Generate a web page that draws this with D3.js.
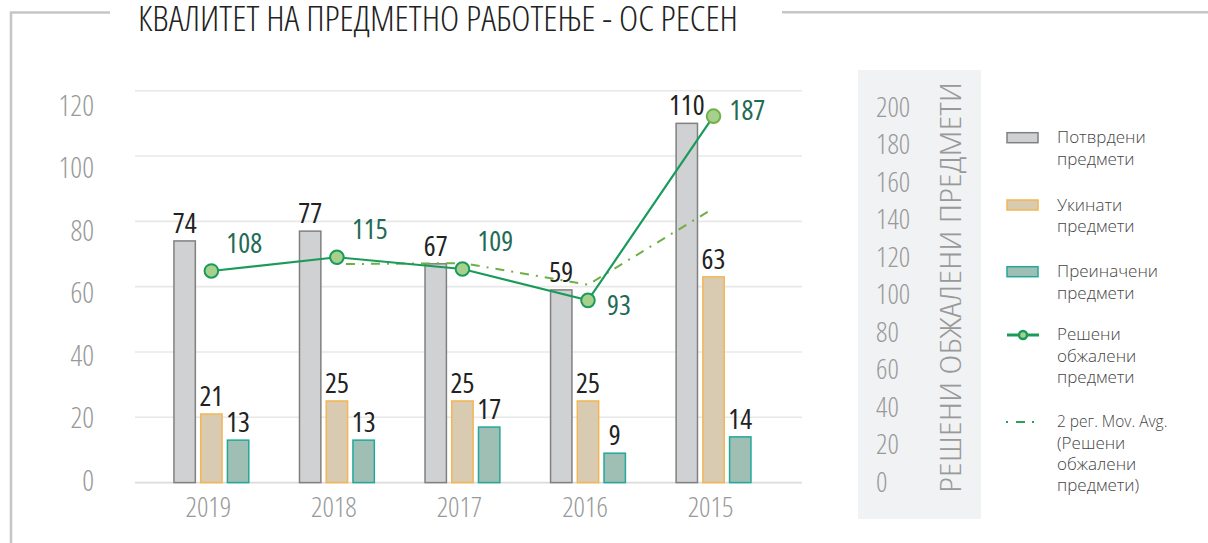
<!DOCTYPE html>
<html><head><meta charset="utf-8">
<script src="https://cdn.jsdelivr.net/npm/d3@7"></script>
<style>
html,body{margin:0;padding:0;background:#fff;}
svg{display:block;}
.cond{font-family:"Open Sans","Liberation Sans Narrow",sans-serif;font-stretch:75%;}
</style></head>
<body>
<svg id="chart" width="1208" height="543"></svg>
<script>
const years = ['2019','2018','2017','2016','2015'];
const confirmed = [74,77,67,59,110];
const revoked = [21,25,25,25,63];
const modified = [13,13,17,9,14];
const resolved = [108,115,109,93,187];
const movAvg = [null,111.5,112,101,140];
const leftTicks = [0,20,40,60,80,100,120];
const rightTicks = [0,20,40,60,80,100,120,140,160,180,200];
const title = 'КВАЛИТЕТ НА ПРЕДМЕТНО РАБОТЕЊЕ - ОС РЕСЕН';
const rightTitle = 'РЕШЕНИ ОБЖАЛЕНИ ПРЕДМЕТИ';
const seriesNames = ['Потврдени предмети','Укинати предмети','Преиначени предмети'];
const lineName = 'Решени обжалени предмети';
const maName = ['2 рег. Mov. Avg.','(Решени','обжалени','предмети)'];

// label placement style for line value labels (ne / e / se)
const lineLabelPlace = ['ne','ne','ne','se','e'];

const svg = d3.select('#chart');
const barFill = ['#d0d1d3','#d9cab2','#9fbfb5'];
const barStroke = ['#808080','#f4b653','#22a899'];
const lineColor = '#1a9b5c';
const maColor = '#6fb045';

const y = d3.scaleLinear().domain([0,120]).range([482.6,90.7]);
const y2 = d3.scaleLinear().domain([0,200]).range([482.6,90.7]);
const yLab = d3.scaleLinear().domain([0,120]).range([480.5,105.5]);
const y2Lab = d3.scaleLinear().domain([0,200]).range([481.7,106.7]);
const x = d3.scaleBand().domain(years).range([148.6,776.3]).paddingInner(0);
const xi = d3.scaleBand().domain([0,1,2]).range([-40.1,40.1]).paddingInner(0.2).paddingOuter(0.1);

// frame
svg.append('path').attr('d','M11,543 L11,12.5 L110,12.5').attr('fill','none').attr('stroke','#c6c6c6').attr('stroke-width',2.6);
svg.append('line').attr('x1',782).attr('x2',1208).attr('y1',12.3).attr('y2',12.3).attr('stroke','#c6c6c6').attr('stroke-width',2.6);

svg.append('text').attr('class','cond').attr('x',138).attr('y',31)
  .attr('font-size',35).attr('font-weight',300).attr('fill','#222')
  .attr('textLength',600).attr('lengthAdjust','spacingAndGlyphs').text(title);

// grid
svg.append('g').selectAll('line').data(leftTicks).join('line')
  .attr('x1',135).attr('x2',802).attr('y1',d=>y(d)).attr('y2',d=>y(d))
  .attr('stroke',d=>d===0?'#dcdcdc':'#e8e8e8').attr('stroke-width',1.6);

// left tick labels
svg.append('g').selectAll('text').data(leftTicks).join('text')
  .attr('class','cond').attr('x',94).attr('y',d=>yLab(d)).attr('dy','0.36em')
  .attr('text-anchor','end').attr('font-size',29).attr('font-weight',300).attr('fill','#999')
  .text(d=>d);

// x labels
svg.append('g').selectAll('text').data(years).join('text')
  .attr('class','cond').attr('x',d=>x(d)+x.bandwidth()/2-3).attr('y',517)
  .attr('text-anchor','middle').attr('font-size',28).attr('font-weight',300).attr('fill','#999')
  .text(d=>d);

// bars
const series = [confirmed,revoked,modified];
const gBars = svg.append('g');
series.forEach((vals,si)=>{
  gBars.append('g').selectAll('rect').data(vals).join('rect')
    .attr('x',(d,i)=>x(years[i])+x.bandwidth()/2+xi(si))
    .attr('width',xi.bandwidth())
    .attr('y',d=>y(d)).attr('height',d=>y(0)-y(d))
    .attr('fill',barFill[si]).attr('stroke',barStroke[si]).attr('stroke-width',1.5);
  gBars.append('g').selectAll('text').data(vals).join('text')
    .attr('class','cond').attr('x',(d,i)=>x(years[i])+x.bandwidth()/2+xi(si)+xi.bandwidth()/2)
    .attr('y',d=>y(d)-8).attr('text-anchor','middle')
    .attr('font-size',28).attr('fill','#222').text(d=>d);
});

// moving average
const cx = i=>x(years[i])+x.bandwidth()/2;
const maLine = d3.line().defined(d=>d!=null).x((d,i)=>cx(i)).y(d=>y2(d));
svg.append('path').datum(movAvg).attr('d',maLine).attr('fill','none')
  .attr('stroke',maColor).attr('stroke-width',2).attr('stroke-dasharray','2,7,9,7');

// line
const line = d3.line().x((d,i)=>cx(i)).y(d=>y2(d));
svg.append('path').datum(resolved).attr('d',line).attr('fill','none')
  .attr('stroke',lineColor).attr('stroke-width',2.2);
svg.append('g').selectAll('circle').data(resolved).join('circle')
  .attr('cx',(d,i)=>cx(i)).attr('cy',d=>y2(d)).attr('r',6.8)
  .attr('fill','#a8d08d').attr('stroke',(d,i)=>i===resolved.length-1?'#72b04a':lineColor).attr('stroke-width',2);
const off = {ne:[15,-18,'start'],e:[16,4,'start'],se:[19,15,'start']};
svg.append('g').selectAll('text').data(resolved).join('text')
  .attr('class','cond')
  .attr('x',(d,i)=>cx(i)+off[lineLabelPlace[i]][0])
  .attr('y',(d,i)=>y2(d)+off[lineLabelPlace[i]][1])
  .attr('font-size',28).attr('fill','#1f6b55').text(d=>d);

// right panel
svg.append('rect').attr('x',858).attr('y',70).attr('width',123).attr('height',449).attr('fill','#f1f2f4');
svg.append('g').selectAll('text').data(rightTicks).join('text')
  .attr('class','cond').attr('x',876).attr('y',d=>y2Lab(d)).attr('dy','0.36em')
  .attr('font-size',28).attr('font-weight',300).attr('fill','#999').text(d=>d);
svg.append('text').attr('class','cond')
  .attr('transform','translate(961,493) rotate(-90)')
  .attr('font-size',30).attr('font-weight',300).attr('fill','#999')
  .attr('textLength',411).attr('lengthAdjust','spacingAndGlyphs').text(rightTitle);

// legend
const lg = svg.append('g');
const legY = [137.7,205,271.7];
seriesNames.forEach((n,i)=>{
  lg.append('rect').attr('x',1007).attr('y',legY[i]-5).attr('width',31).attr('height',10)
    .attr('fill',barFill[i]).attr('stroke',barStroke[i]).attr('stroke-width',1.5);
  const words = n.split(' ');
  words.forEach((w,j)=>lg.append('text').attr('x',1057).attr('y',legY[i]+5.6+j*21.6)
    .attr('font-family','Open Sans, sans-serif').attr('font-size',17).attr('font-weight',300).attr('fill','#444').text(w));
});
lg.append('line').attr('x1',1007).attr('x2',1039).attr('y1',335).attr('y2',335).attr('stroke',lineColor).attr('stroke-width',3);
lg.append('circle').attr('cx',1023).attr('cy',335).attr('r',4).attr('fill','#a8d08d').attr('stroke',lineColor).attr('stroke-width',2.5);
lineName.split(' ').forEach((w,j)=>lg.append('text').attr('x',1057).attr('y',340+j*21.6)
  .attr('font-family','Open Sans, sans-serif').attr('font-size',17).attr('font-weight',300).attr('fill','#444').text(w));
lg.append('line').attr('x1',1006).attr('x2',1034).attr('y1',422).attr('y2',422).attr('stroke','#2aa05a').attr('stroke-width',2).attr('stroke-dasharray','2,8,9,7');
maName.forEach((w,j)=>lg.append('text').attr('x',1057).attr('y',427.3+j*21.3)
  .attr('font-family','Open Sans, sans-serif').attr('font-size',w.startsWith('2')?15.5:17).attr('font-weight',300).attr('fill','#444').text(w));
</script>
</body></html>
